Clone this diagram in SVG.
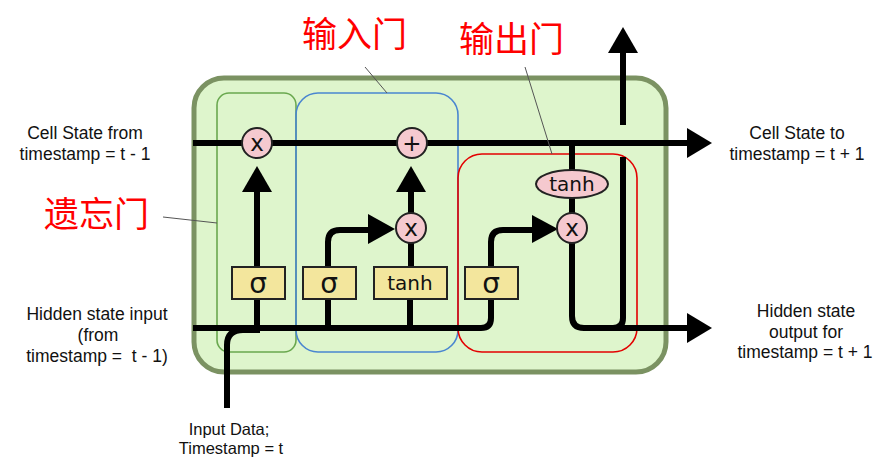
<svg xmlns="http://www.w3.org/2000/svg" width="876" height="458" viewBox="0 0 876 458">
<defs>
<style>
.lbl{font-family:"Liberation Sans",Arial,sans-serif;font-size:17.5px;fill:#111;text-anchor:middle;white-space:pre}
.sm{font-size:16.5px}
.cn{font-family:"Noto Sans CJK SC","Noto Sans",sans-serif;font-size:35px;fill:#ff0000}
.wire{fill:none;stroke:#000;stroke-width:6;stroke-linejoin:round}
.lead{stroke:#555;stroke-width:1;fill:none}
.op{fill:#f5c9cf;stroke:#222;stroke-width:2}
.opt{font-family:"DejaVu Sans",sans-serif;font-size:23px;fill:#111;text-anchor:middle}
.box{fill:#f3e69d;stroke:#222;stroke-width:2}
.sig{font-family:"DejaVu Sans",sans-serif;font-size:28px;fill:#111;text-anchor:middle}
.th{font-family:"DejaVu Sans",sans-serif;font-size:20px;fill:#111;text-anchor:middle}
.head{fill:#000}
</style>
</defs>
<rect width="876" height="458" fill="#ffffff"/>
<g id="cell">
<rect x="194" y="78" width="472" height="294" rx="30" fill="#def5cc" stroke="#7b9262" stroke-width="5"/>
</g>
<g id="forget-gate"><rect x="217" y="93" width="79" height="259" rx="12" fill="none" stroke="#6aa84f" stroke-width="1.6"/></g>
<g id="input-gate"><rect x="296" y="93" width="162" height="259" rx="22" fill="none" stroke="#4a86d0" stroke-width="1.6"/></g>
<g id="output-gate"><rect x="458" y="154" width="179" height="198" rx="24" fill="none" stroke="#e30000" stroke-width="1.6"/></g>
<g id="connectors">
<line class="wire" x1="193" y1="143" x2="690" y2="143"/>
<polygon class="head" points="687,128 712,143 687,158"/>
<path class="wire" d="M193,328 H481 Q491,328 491,318 V299"/>
<path class="wire" d="M227,408 V345 Q227,330 243,330 H260"/>
<line class="wire" x1="257" y1="328" x2="257" y2="299"/>
<line class="wire" x1="328" y1="328" x2="328" y2="299"/>
<line class="wire" x1="410" y1="328" x2="410" y2="299"/>
<line class="wire" x1="257" y1="267" x2="257" y2="190"/>
<polygon class="head" points="242,192 257,166 272,192"/>
<path class="wire" d="M328,267 V242 Q328,230 340,230 H370"/>
<polygon class="head" points="368,214 395,229 368,244"/>
<line class="wire" x1="411" y1="267" x2="411" y2="243"/>
<line class="wire" x1="411" y1="213" x2="411" y2="190"/>
<polygon class="head" points="396,192 411,166 426,192"/>
<path class="wire" d="M491,267 V242 Q491,230 503,230 H535"/>
<polygon class="head" points="532,215 558,229 532,243"/>
<line class="wire" x1="572" y1="143" x2="572" y2="214"/>
<path class="wire" d="M572,243 V316 Q572,328 584,328 H690"/>
<polygon class="head" points="687,313 712,328 687,343"/>
<path class="wire" d="M623,157 V318 Q623,328 613,328"/>
<line class="wire" x1="623" y1="125" x2="623" y2="50"/>
<polygon class="head" points="608,53 623,27 638,53"/>
<line class="lead" x1="163" y1="217" x2="217" y2="223"/>
<line class="lead" x1="365" y1="67" x2="387" y2="93"/>
<line class="lead" x1="525" y1="67" x2="552" y2="154"/>
</g>
<g id="forget-mul"><circle class="op" cx="257" cy="143" r="15"/><text class="opt" x="257" y="151">x</text></g>
<g id="add"><circle class="op" cx="412" cy="143" r="15"/><text class="opt" x="412" y="151">+</text></g>
<g id="input-mul"><circle class="op" cx="411" cy="228" r="15"/><text class="opt" x="411" y="236">x</text></g>
<g id="output-mul"><circle class="op" cx="572" cy="228" r="15"/><text class="opt" x="572" y="236">x</text></g>
<g id="output-tanh"><ellipse class="op" cx="572" cy="184" rx="36" ry="14"/><text class="th" x="572" y="191">tanh</text></g>
<g id="sigma-forget"><rect class="box" x="232" y="267" width="53" height="32"/><text class="sig" x="258" y="293">σ</text></g>
<g id="sigma-input"><rect class="box" x="303" y="267" width="53" height="32"/><text class="sig" x="329" y="293">σ</text></g>
<g id="tanh-input"><rect class="box" x="374" y="267" width="73" height="32"/><text class="th" x="410" y="290">tanh</text></g>
<g id="sigma-output"><rect class="box" x="465" y="267" width="53" height="32"/><text class="sig" x="491" y="293">σ</text></g>
<g id="labels">
<text class="lbl" x="85" y="139">Cell State from</text>
<text class="lbl" x="85" y="160">timestamp = t - 1</text>
<text class="lbl" x="97" y="320">Hidden state input</text>
<text class="lbl" x="98" y="341">(from</text>
<text class="lbl" x="97" y="362">timestamp =  t - 1)</text>
<text class="lbl" x="797" y="139">Cell State to</text>
<text class="lbl" x="797" y="160">timestamp = t + 1</text>
<text class="lbl" x="806" y="317">Hidden state</text>
<text class="lbl" x="806" y="338">output for</text>
<text class="lbl" x="805" y="358">timestamp = t + 1</text>
<text class="lbl sm" x="229" y="435">Input Data;</text>
<text class="lbl sm" x="231" y="454">Timestamp = t</text>
<text class="cn" x="302" y="47">输入门</text>
<text class="cn" x="459" y="52">输出门</text>
<text class="cn" x="44" y="227">遗忘门</text>
</g>
</svg>
